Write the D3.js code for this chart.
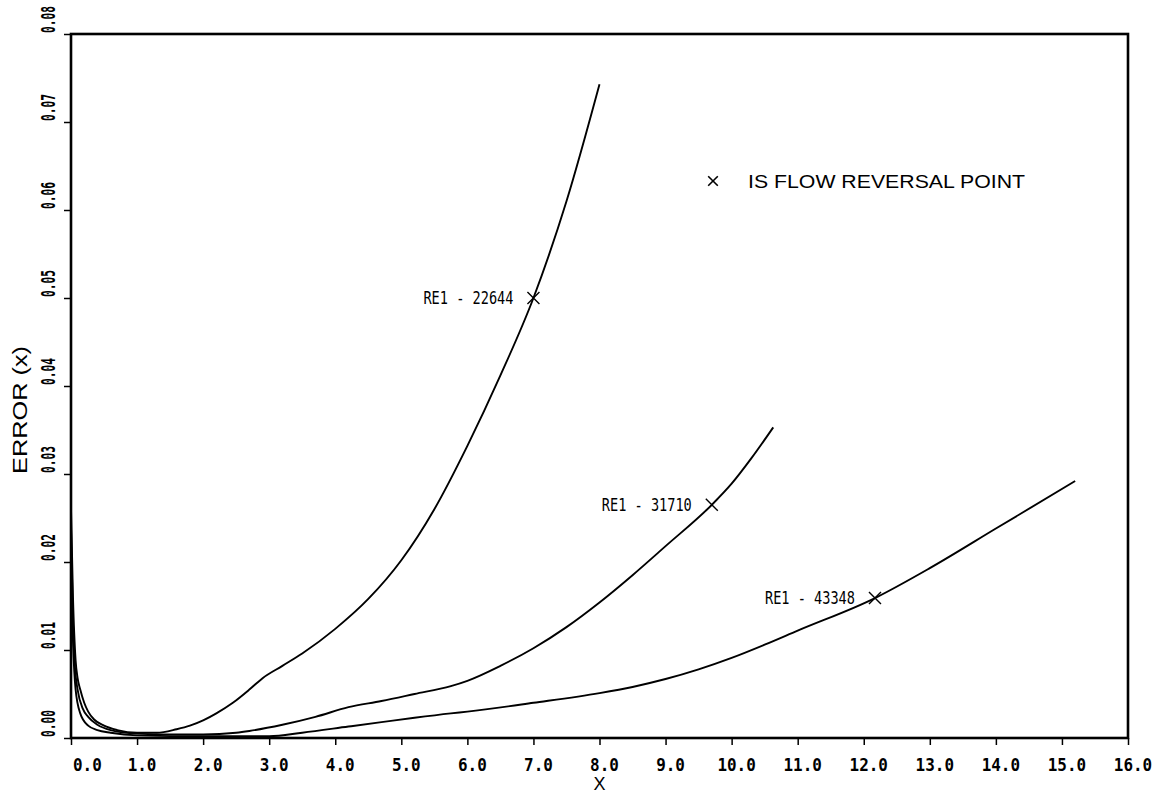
<!DOCTYPE html>
<html>
<head>
<meta charset="utf-8">
<script src="https://cdn.jsdelivr.net/npm/d3@7"></script>
<style>
  body { margin: 0; background: #fff; }
</style>
</head>
<body>
<div id="chart"></div>
<script>
// curves: [x, error]
const curve22644 = [[0,0.026],[0.03,0.016],[0.07,0.0088],[0.1,0.0068],[0.14,0.0055],[0.2,0.004],[0.26,0.003],
  [0.35,0.0021],[0.5,0.0014],[0.7,0.0009],[1.0,0.0006],[1.3,0.0006],[1.6,0.001],[1.8,0.0014],[2.0,0.002],
  [2.2,0.0028],[2.45,0.004],[2.7,0.0055],[2.9,0.0068],[3.2,0.0082],[3.5,0.0096],[4.0,0.0124],[4.5,0.0158],
  [5.0,0.0202],[5.5,0.026],[6.0,0.0332],[6.5,0.0412],[7.0,0.05],[7.5,0.061],[8.0,0.0743]];

const curve31710 = [[0,0.024],[0.03,0.013],[0.06,0.008],[0.1,0.0055],[0.18,0.0033],[0.26,0.0024],[0.4,0.0015],
  [0.6,0.0009],[1.0,0.0005],[1.5,0.0004],[2.0,0.0004],[2.5,0.0006],[2.7,0.0008],[3.2,0.0015],[3.7,0.0024],
  [4.2,0.0035],[4.7,0.0042],[5.2,0.005],[5.75,0.0059],[6.0,0.0065],[6.5,0.0082],[7.0,0.0102],[7.5,0.0126],
  [8.0,0.0154],[8.5,0.0185],[9.0,0.0218],[9.7,0.0265],[10.0,0.0289],[10.3,0.0318],[10.63,0.0353]];

const curve43348 = [[0,0.022],[0.03,0.011],[0.05,0.0075],[0.07,0.0055],[0.14,0.0028],[0.26,0.0014],[0.4,0.0009],
  [0.6,0.0006],[1.0,0.0003],[2.0,0.0002],[3.0,0.0002],[3.5,0.0006],[4.2,0.0013],[4.7,0.0018],[5.2,0.0023],
  [5.75,0.0028],[6.0,0.003],[7.0,0.004],[8.0,0.0051],[8.5,0.0058],[9.0,0.0067],[9.5,0.0078],[10.0,0.0091],
  [10.5,0.0106],[11.0,0.0122],[12.17,0.0159],[13.0,0.0193],[14.0,0.0238],[15.2,0.0292]];

// flow reversal points and their labels
const reversalX = [7.0, 9.7, 12.17];
const reversalY = [0.050, 0.0265, 0.0159];
const reversalLabels = ["RE1 - 22644", "RE1 - 31710", "RE1 - 43348"];

const xTicks = d3.range(0, 17);
const yTicks = [0, 0.01, 0.02, 0.03, 0.04, 0.05, 0.06, 0.07, 0.08];

// set the dimensions and margins of the graph
let margin = {top: 34, right: 33, bottom: 56, left: 71},
  width = 1161 - margin.left - margin.right,
  height = 794 - margin.top - margin.bottom;

const svg = d3.select("#chart")
  .append("svg")
    .attr("width", width + margin.left + margin.right)
    .attr("height", height + margin.top + margin.bottom)
  .append("g")
    .attr("transform", "translate(" + margin.left + "," + margin.top + ")");

let x = d3.scaleLinear().domain([0, 16]).range([0, width]);
let y = d3.scaleLinear().domain([0, 0.08]).range([height, 0]);

const mono = "'DejaVu Sans Mono', 'Liberation Mono', monospace";
const sans = "'Liberation Sans', Arial, sans-serif";

// x axis ticks + labels
let xAxis = svg.append("g")
  .attr("transform", "translate(0," + height + ")")
  .call(d3.axisBottom(x).tickValues(xTicks).tickSize(7).tickFormat(""));
xAxis.select(".domain").remove();
xAxis.selectAll(".tick line").attr("stroke", "#000").attr("stroke-width", 1.5);

svg.selectAll("xlabels")
  .data(xTicks)
  .enter()
  .append("text")
    .attr("x", d => d === 0 ? x(d) + 2 : x(d) + 5)
    .attr("y", height + 33)
    .attr("text-anchor", d => d === 0 ? "start" : "middle")
    .style("font-family", mono)
    .style("font-size", "18px")
    .style("font-weight", "bold")
    .attr("textLength", d => (d < 10 ? 3 : 4) * 9.6)
    .attr("lengthAdjust", "spacingAndGlyphs")
    .text(d => d.toFixed(1));

// y axis ticks + rotated labels
let yAxis = svg.append("g")
  .call(d3.axisLeft(y).tickValues(yTicks).tickSize(7).tickFormat(""));
yAxis.select(".domain").remove();
yAxis.selectAll(".tick line").attr("stroke", "#000").attr("stroke-width", 1.5);

svg.selectAll("ylabels")
  .data(yTicks)
  .enter()
  .append("text")
    .attr("transform", d => "translate(-16," + (y(d) - 1) + ")rotate(-90)")
    .attr("text-anchor", "start")
    .style("font-family", mono)
    .style("font-size", "20px")
    .style("font-weight", "bold")
    .attr("textLength", 27)
    .attr("lengthAdjust", "spacingAndGlyphs")
    .text(d => d.toFixed(2));

// frame
svg.append("rect")
  .attr("x", 0).attr("y", 0)
  .attr("width", width).attr("height", height)
  .attr("fill", "none")
  .attr("stroke", "#000")
  .attr("stroke-width", 2.6);

// curves
let line = d3.line()
  .x(d => x(d[0]))
  .y(d => y(d[1]))
  .curve(d3.curveMonotoneX);

svg.selectAll("curves")
  .data([curve22644, curve31710, curve43348])
  .enter()
  .append("path")
    .attr("d", line)
    .attr("fill", "none")
    .attr("stroke", "#000")
    .attr("stroke-width", 1.9);

// reversal markers
const cross = "M-6,-6L6,6M-6,6L6,-6";
svg.selectAll("markers")
  .data(reversalX)
  .enter()
  .append("path")
    .attr("d", cross)
    .attr("transform", (d, i) => "translate(" + x(d) + "," + y(reversalY[i]) + ")")
    .attr("stroke", "#000")
    .attr("stroke-width", 1.4)
    .attr("fill", "none");

svg.selectAll("markerlabels")
  .data(reversalX)
  .enter()
  .append("text")
    .attr("x", d => x(d) - 20)
    .attr("y", (d, i) => y(reversalY[i]) + 6)
    .attr("text-anchor", "end")
    .style("font-family", mono)
    .style("font-size", "18px")
    .attr("textLength", 90)
    .attr("lengthAdjust", "spacingAndGlyphs")
    .text((d, i) => reversalLabels[i]);

// legend note
svg.append("path")
  .attr("d", cross)
  .attr("transform", "translate(" + (713 - margin.left) + "," + (181 - margin.top) + ")scale(0.8)")
  .attr("stroke", "#000")
  .attr("stroke-width", 2);

svg.append("text")
  .attr("x", 748 - margin.left)
  .attr("y", 188 - margin.top)
  .style("font-family", sans)
  .style("font-size", "19px")
  .attr("textLength", 277)
  .attr("lengthAdjust", "spacingAndGlyphs")
  .text("IS FLOW REVERSAL POINT");

// axis titles
svg.append("text")
  .attr("x", width / 2)
  .attr("y", height + 52)
  .attr("text-anchor", "middle")
  .style("font-family", sans)
  .style("font-size", "18px")
  .text("X");

svg.append("text")
  .attr("transform", "translate(" + (27 - margin.left) + "," + (410 - margin.top) + ")rotate(-90)")
  .attr("text-anchor", "middle")
  .style("font-family", sans)
  .style("font-size", "20px")
  .attr("textLength", 128)
  .attr("lengthAdjust", "spacingAndGlyphs")
  .text("ERROR (x)");
</script>
</body>
</html>
